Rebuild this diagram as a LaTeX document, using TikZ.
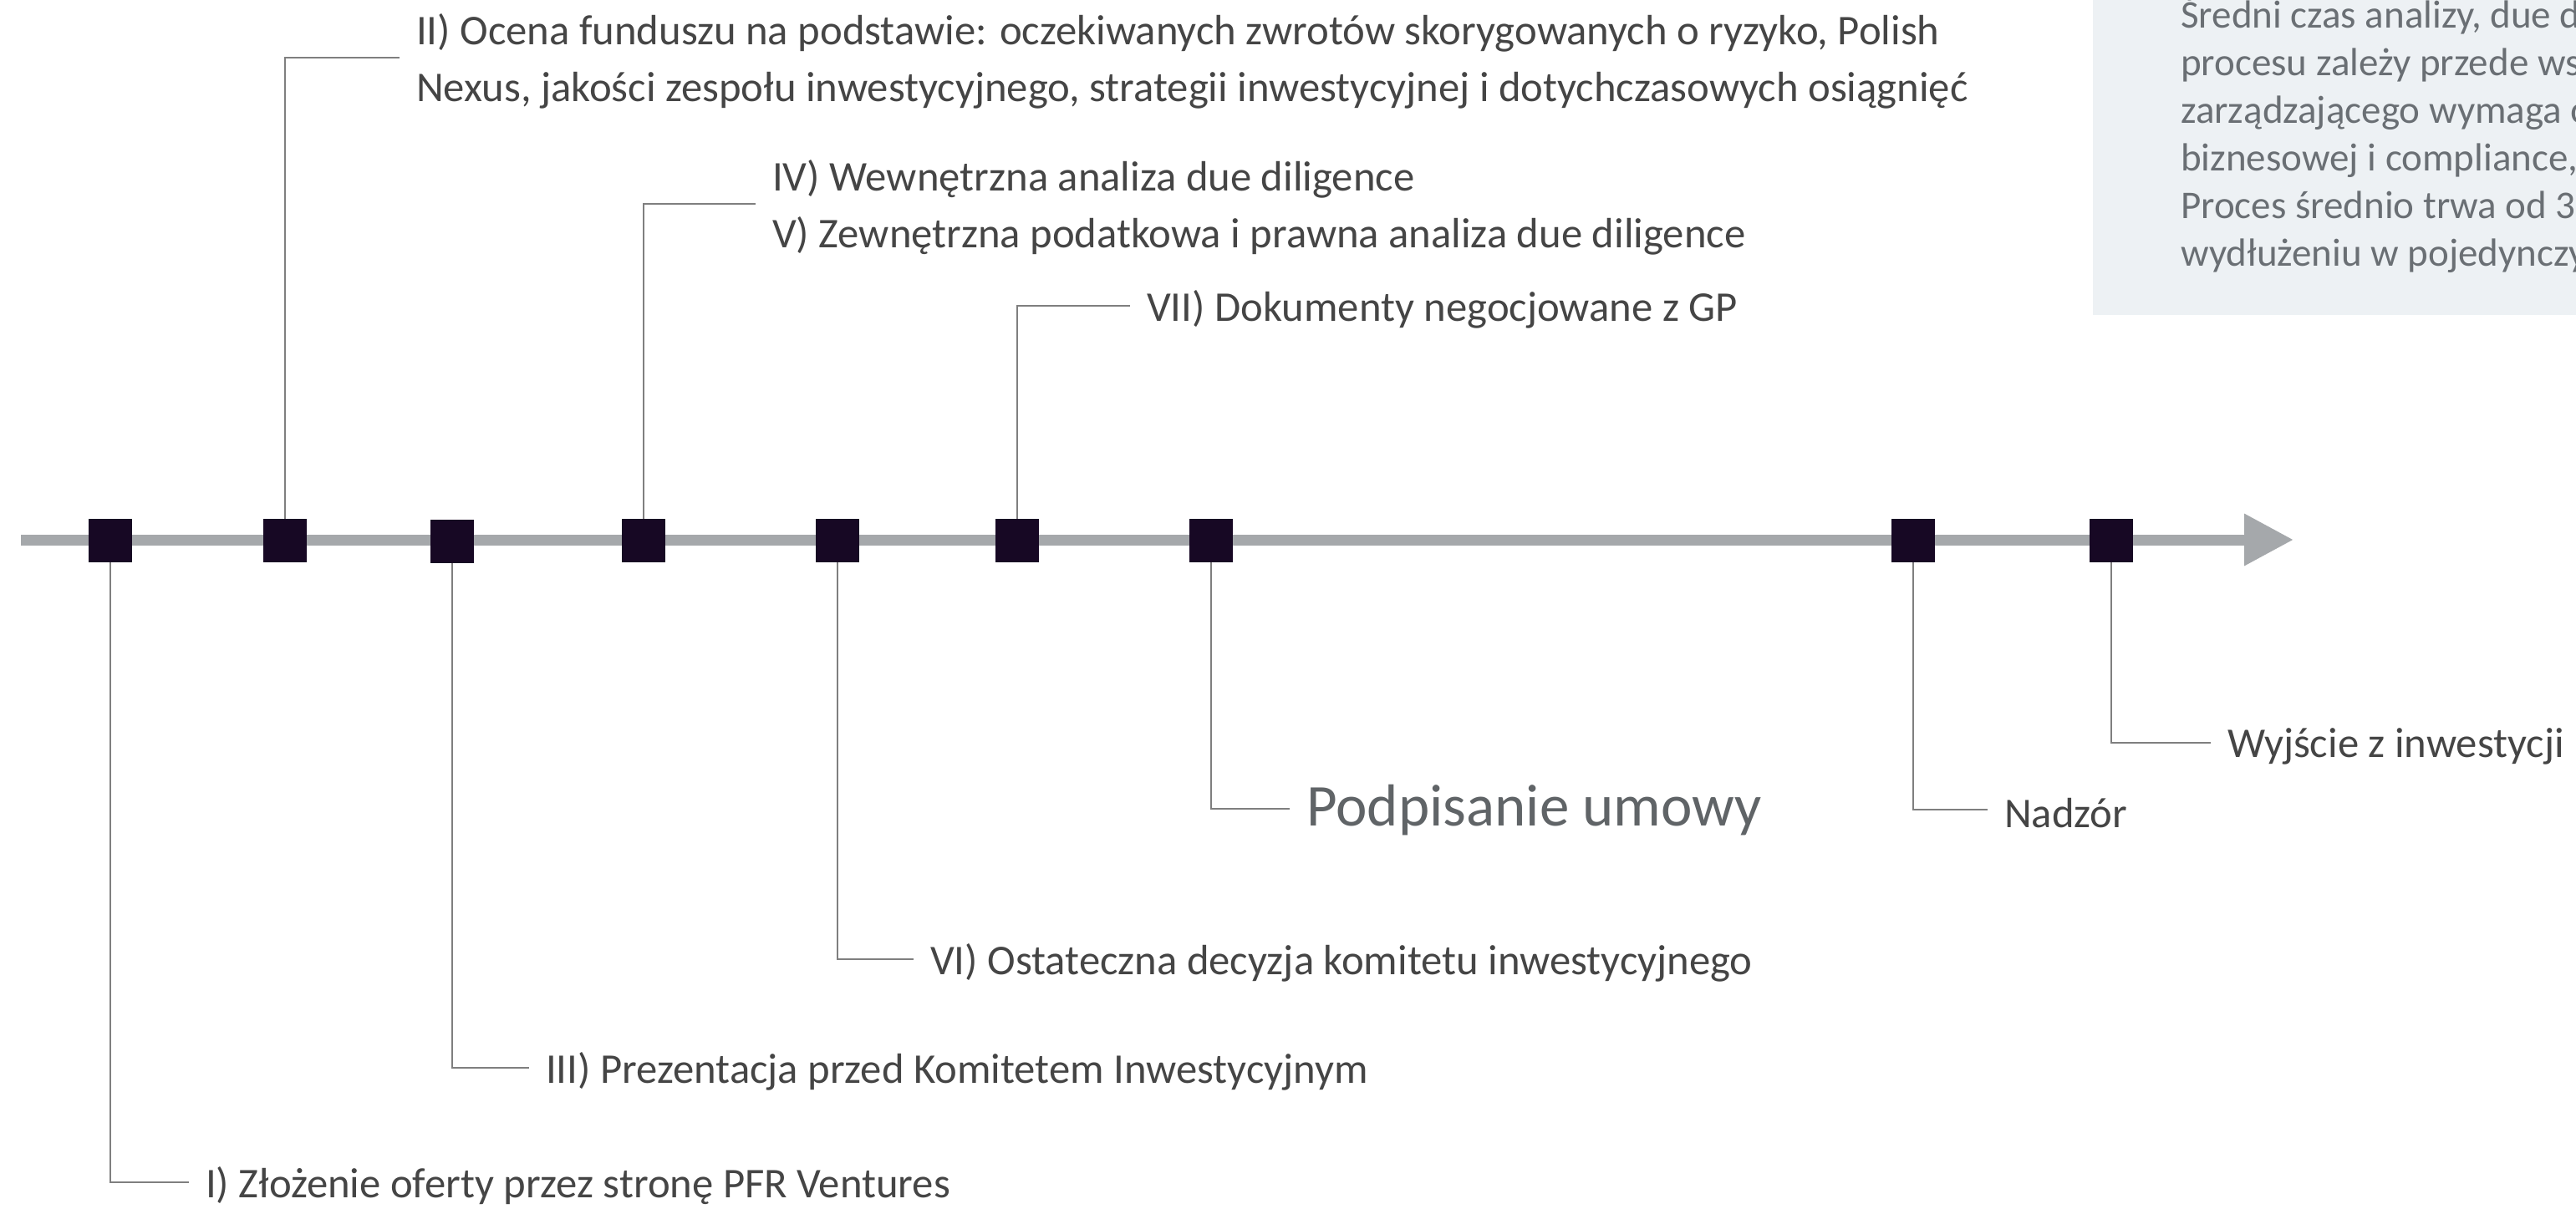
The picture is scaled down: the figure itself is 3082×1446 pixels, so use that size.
\documentclass[tikz,border=0pt]{standalone}
\usepackage{fontspec}
\setmainfont{Carlito}
\usepackage{xcolor}
\usepackage{tikz}
\usetikzlibrary{arrows.meta,positioning}
\definecolor{axisGrey}{HTML}{A5A8AB}
\definecolor{leadGrey}{HTML}{7F7F7F}
\definecolor{markDark}{HTML}{170824}
\definecolor{lblGrey}{HTML}{454545}
\definecolor{signGrey}{HTML}{606467}
\definecolor{noteBg}{HTML}{EDF1F4}
\definecolor{noteTxt}{HTML}{6A6F74}

\tikzset{
  markbox/.style={fill=markDark, minimum size=52pt, inner sep=0pt},
  lbl/.style={anchor=west, inner xsep=20pt, inner ysep=0pt, text=lblGrey,
    font=\fontsize{50.7}{68}\selectfont, align=left},
  lead/.style={draw=leadGrey, line width=2pt},
}

\begin{document}
\begin{tikzpicture}[x=1pt, y=-1pt]
  \useasboundingbox (0,0) rectangle (3082,1446);
  % note in the corner, cut by the page edge
  \begin{scope}
    \clip (0,0) rectangle (3082,1446);
    \fill[noteBg] (2504,0) rectangle (3082,377);
    \node[anchor=north west, inner sep=0pt, text=noteTxt, align=left,
      font=\fontsize{47}{57}\selectfont] (note) at (2609,-6)
      {Średni czas analizy, due diligence\\
       procesu zależy przede wszystkim\\
       zarządzającego wymaga od\\
       biznesowej i compliance,\\
       Proces średnio trwa od 3\\
       wydłużeniu w pojedynczych};
  \end{scope}
  % time axis
  \draw[axisGrey, line width=13pt, -{Triangle[length=59pt, width=59pt]}] (25,646) -- (2744,646);
  \node[markbox] (m1) at (132,647) {};
  \node[markbox] (m2) at (341,647) {};
  \node[markbox] (m3) at (541,648) {};
  \node[markbox] (m4) at (770,647) {};
  \node[markbox] (m5) at (1002,647) {};
  \node[markbox] (m6) at (1217,647) {};
  \node[markbox] (m7) at (1449,647) {};
  \node[markbox] (m8) at (2289,647) {};
  \node[markbox] (m9) at (2526,647) {};
  % labels (text sits 4px below its leader)
  \node[lbl] (t1) at (226,1419) {I) Złożenie oferty przez stronę PFR Ventures};
  \node[lbl] (t2) at (478,73) {II) Ocena funduszu na podstawie: oczekiwanych zwrotów skorygowanych o ryzyko, Polish\\Nexus, jakości zespołu inwestycyjnego, strategii inwestycyjnej i dotychczasowych osiągnięć};
  \node[lbl] (t3) at (633,1282) {III) Prezentacja przed Komitetem Inwestycyjnym};
  \node[lbl] (t4) at (904,248) {IV) Wewnętrzna analiza due diligence\\V) Zewnętrzna podatkowa i prawna analiza due diligence};
  \node[lbl] (t5) at (1093,1152) {VI) Ostateczna decyzja komitetu inwestycyjnego};
  \node[lbl] (t6) at (1352,370) {VII) Dokumenty negocjowane z GP};
  \node[lbl, text=signGrey, font=\fontsize{71}{85}\selectfont] (t7) at (1543,970) {Podpisanie umowy};
  \node[lbl] (t8) at (2378,973) {Nadzór};
  \node[lbl] (t9) at (2645,893) {Wyjście z inwestycji};
  % leaders
  \draw[lead] (m1.south) |- ([yshift=4pt]t1.west);
  \draw[lead] (m2.north) |- ([yshift=4pt]t2.west);
  \draw[lead] (m3.south) |- ([yshift=4pt]t3.west);
  \draw[lead] (m4.north) |- ([yshift=4pt]t4.west);
  \draw[lead] (m5.south) |- ([yshift=4pt]t5.west);
  \draw[lead] (m6.north) |- ([yshift=4pt]t6.west);
  \draw[lead] (m7.south) |- ([yshift=2pt]t7.west);
  \draw[lead] (m8.south) |- ([yshift=4pt]t8.west);
  \draw[lead] (m9.south) |- ([yshift=4pt]t9.west);
\end{tikzpicture}
\end{document}
